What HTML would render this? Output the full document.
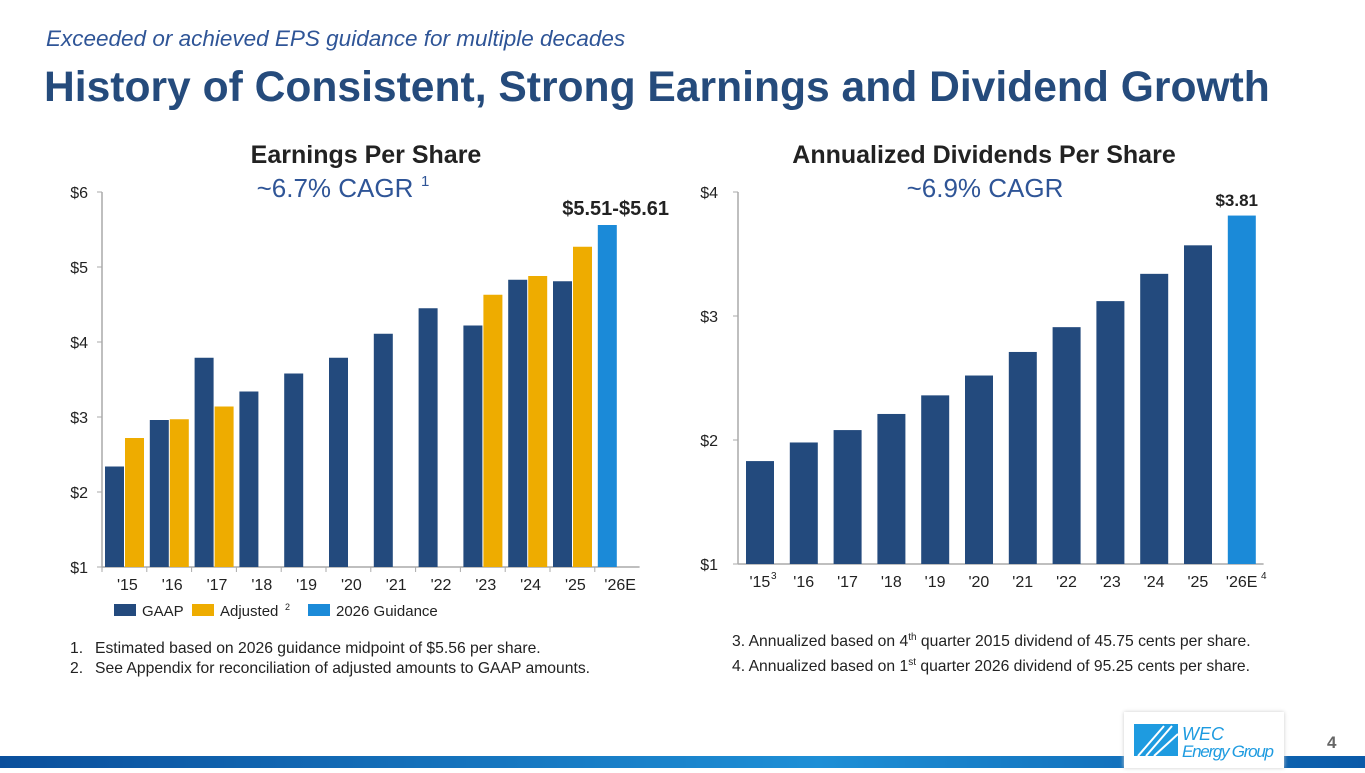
<!DOCTYPE html>
<html><head><meta charset="utf-8"><style>
body{margin:0;width:1365px;height:768px;overflow:hidden;background:#fff;font-family:"Liberation Sans",Arial,sans-serif;position:relative}
.abs{position:absolute}
.fn span{display:inline-block;width:25px}
</style></head><body>
<div class="abs" style="left:46px;top:26px;font-size:22.5px;font-style:italic;color:#2f5597">Exceeded or achieved EPS guidance for multiple decades</div>
<div class="abs" style="left:44px;top:63px;font-size:42.6px;font-weight:bold;color:#254b7c">History of Consistent, Strong Earnings and Dividend Growth</div>
<div class="abs fn" style="left:70px;top:639px;font-size:15.7px;color:#222;line-height:20px"><span>1.</span>Estimated based on 2026 guidance midpoint of $5.56 per share.<br><span>2.</span>See Appendix for reconciliation of adjusted amounts to GAAP amounts.</div>
<div class="abs" style="left:732px;top:627px;font-size:15.7px;color:#222;line-height:21px">3. Annualized based on 4<sup style="font-size:10px">th</sup> quarter 2015 dividend of 45.75 cents per share.<br>4. Annualized based on 1<sup style="font-size:10px">st</sup> quarter 2026 dividend of 95.25 cents per share.</div>
<div class="abs" style="left:0;top:756px;width:1365px;height:12px;background:linear-gradient(90deg,#0a4f9c,#1e8fd6 60%,#0a5aa8)"></div>
<div class="abs" style="left:1124px;top:712px;width:160px;height:56px;background:#fff;box-shadow:0 0 4px #ccc">
 <svg width="160" height="56"><rect x="10" y="12" width="44" height="32" fill="#1e9be0"/><path d="M14 44L40 14M22 44L48 14M30 44L54 22" stroke="#fff" stroke-width="2"/>
 <text x="58" y="28" font-size="18" font-style="italic" fill="#1e9be0" font-family="Liberation Sans">WEC</text>
 <text x="58" y="45" font-size="17" font-style="italic" fill="#1e9be0" font-family="Liberation Sans" textLength="92">Energy Group</text></svg></div>
<div class="abs" style="left:1327px;top:733px;font-size:17px;font-weight:bold;color:#666">4</div>
<svg id="chart" class="abs" style="left:0;top:0" width="1365" height="768"></svg>
<script>
const epsCats=["'15","'16","'17","'18","'19","'20","'21","'22","'23","'24","'25","'26E"];
const epsGaap=[2.34,2.96,3.79,3.34,3.58,3.79,4.11,4.45,4.22,4.83,4.81,null];
const epsAdj=[2.72,2.97,3.14,null,null,null,null,null,4.63,4.88,5.27,null];
const epsGuid=[null,null,null,null,null,null,null,null,null,null,null,5.56];
const epsTicks=[1,2,3,4,5,6];
const divCats=["'15","'16","'17","'18","'19","'20","'21","'22","'23","'24","'25","'26E"];
const divVals=[1.83,1.98,2.08,2.21,2.36,2.52,2.71,2.91,3.12,3.34,3.57,3.81];
const divTicks=[1,2,3,4];
const NS="http://www.w3.org/2000/svg",svg=document.getElementById('chart');
function mk(t,a,txt){const e=document.createElementNS(NS,t);for(const k in a)e.setAttribute(k,a[k]);if(txt!=null)e.textContent=txt;svg.appendChild(e);return e;}
const NAVY="#234a7d",GOLD="#eeac00",BLUE="#1b8ad8";
const eY=v=>567-(v-1)*75, eX0=102, eStep=44.8;
let e;
e=mk('line',{x1:eX0,y1:192,x2:eX0,y2:567,stroke:"#aaa","stroke-width":1.5});

e=mk('line',{x1:eX0,y1:567,x2:eX0+eStep*12,y2:567,stroke:"#aaa","stroke-width":1.5});

epsTicks.forEach(t=>{mk('line',{x1:eX0-5,x2:eX0,y1:eY(t),y2:eY(t),stroke:"#aaa"});
 e=mk('text',{x:eX0-14,y:eY(t)+6,"text-anchor":"end","font-size":16,fill:"#222"},"$"+t);
 });
epsCats.forEach((c,i)=>{const x=eX0+i*eStep;
 mk('line',{x1:x,x2:x,y1:567,y2:572,stroke:"#aaa"});
 e=mk('text',{x:x+eStep/2+3,y:590,"text-anchor":"middle","font-size":16,fill:"#222"},c);
 
 const bars=[[epsGaap[i],NAVY,'eps-gaap-bar',0],[epsAdj[i],GOLD,'eps-adjusted-bar',20],[epsGuid[i],BLUE,'eps-guidance-bar',0]];
 bars.forEach(b=>{if(b[0]==null)return;
  e=mk('rect',{x:x+3+b[3],y:eY(b[0]),width:19,height:567-eY(b[0]),fill:b[1]});
  });
});
e=mk('text',{x:669,y:eY(epsGuid[11])-10,"text-anchor":"end","font-size":20,"font-weight":"bold",fill:"#222"},"$5.51-$5.61");

e=mk('text',{x:366,y:163,"text-anchor":"middle","font-size":25,"font-weight":"bold",fill:"#222"},"Earnings Per Share");

e=mk('text',{x:335,y:197,"text-anchor":"middle","font-size":26,fill:"#2f5597"},"~6.7% CAGR");

mk('text',{x:421,y:186,"font-size":15,fill:"#2f5597"},"1");
[[NAVY,"GAAP",114],[GOLD,"Adjusted",192],[BLUE,"2026 Guidance",308]].forEach(l=>{
 e=mk('rect',{x:l[2],y:604,width:22,height:12,fill:l[0]});
 
 e=mk('text',{x:l[2]+28,y:616,"font-size":15,fill:"#222"},l[1]);
 });
mk('text',{x:285,y:610,"font-size":9,fill:"#222"},"2");
const dY=v=>564-(v-1)*124, dX0=738, dStep=43.8;
e=mk('line',{x1:dX0,y1:192,x2:dX0,y2:564,stroke:"#aaa","stroke-width":1.5});

e=mk('line',{x1:dX0,y1:564,x2:dX0+dStep*12,y2:564,stroke:"#aaa","stroke-width":1.5});

divTicks.forEach(t=>{mk('line',{x1:dX0-5,x2:dX0,y1:dY(t),y2:dY(t),stroke:"#aaa"});
 e=mk('text',{x:dX0-20,y:dY(t)+6,"text-anchor":"end","font-size":16,fill:"#222"},"$"+t);
 });
divCats.forEach((c,i)=>{const x=dX0+i*dStep;
 e=mk('text',{x:x+dStep/2,y:587,"text-anchor":"middle","font-size":16,fill:"#222"},c);
 
 e=mk('rect',{x:x+8,y:dY(divVals[i]),width:28,height:564-dY(divVals[i]),fill:i==11?BLUE:NAVY});
 });
mk('text',{x:771,y:579,"font-size":10,fill:"#222"},"3");
mk('text',{x:1261,y:579,"font-size":10,fill:"#222"},"4");
e=mk('text',{x:1258,y:206,"text-anchor":"end","font-size":17,"font-weight":"bold",fill:"#222"},"$"+divVals[11].toFixed(2));

e=mk('text',{x:984,y:163,"text-anchor":"middle","font-size":25,"font-weight":"bold",fill:"#222"},"Annualized Dividends Per Share");

e=mk('text',{x:985,y:197,"text-anchor":"middle","font-size":26,fill:"#2f5597"},"~6.9% CAGR");

</script>
</body></html>
